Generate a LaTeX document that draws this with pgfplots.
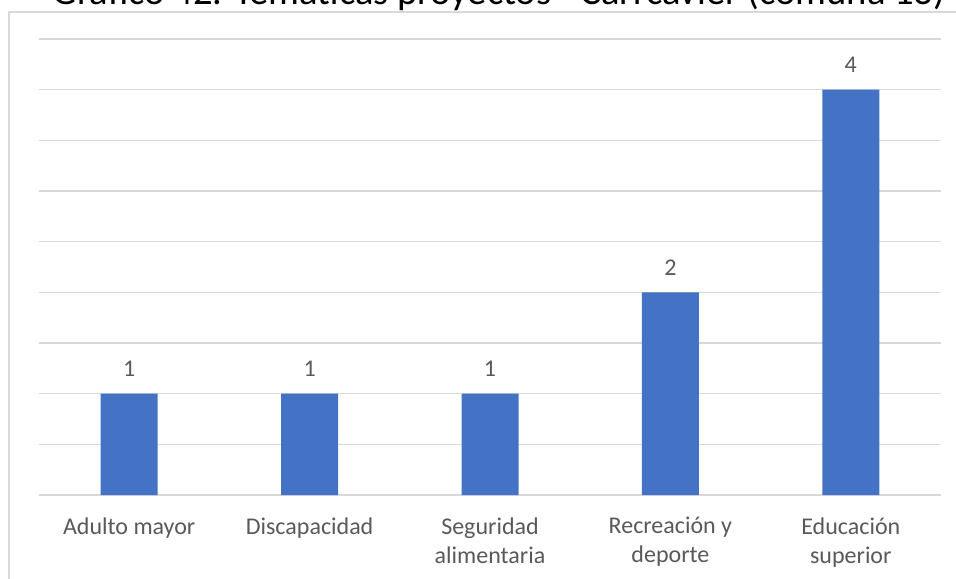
\documentclass[border=0pt]{standalone}
\usepackage{pgfplots}
\pgfplotsset{compat=1.18}
\usepackage{fontspec}
\setmainfont{Carlito}
\definecolor{barblue}{HTML}{4472C4}
\definecolor{gridgray}{HTML}{D9D9D9}
\definecolor{txtgray}{HTML}{595959}
\begin{document}
\begin{tikzpicture}
\path[use as bounding box] (0,0) rectangle (478pt,289pt);
\clip (0,0) rectangle (478pt,289pt);
\draw[gridgray, line width=0.75pt] (4.5pt,-10pt) rectangle (500pt,283pt);
\node[anchor=base, inner sep=0pt, font=\fontsize{19.3}{22}\selectfont] at (249.5pt,286.5pt) {Gráfico 42. Temáticas proyectos - Carrcavier (comuna 13)};
\begin{axis}[
  at={(19.5pt,41.5pt)}, anchor=south west,
  scale only axis, width=451pt, height=228pt,
  xmin=-0.5, xmax=4.5, ymin=0, ymax=4.5,
  /pgf/number format/assume math mode=true,
  ytick={0,0.5,...,4.5}, yticklabels={},
  ymajorgrids, grid style={gridgray, line width=0.75pt},
  axis lines*=left,
  y axis line style={draw=none},
  x axis line style={gridgray, line width=0.75pt, -},
  xtick=data, tick style={draw=none},
  xticklabels={Adulto mayor, Discapacidad, Seguridad\\alimentaria, Recreación y\\deporte, Educación\\superior},
  xticklabel style={font=\fontsize{12}{14.5}\selectfont, text=txtgray, align=center, inner sep=0pt, anchor=north, yshift=-11pt},
  nodes near coords,
  every node near coord/.append style={font=\fontsize{12}{14.5}\selectfont, text=txtgray, inner sep=0pt, anchor=base, yshift=8.5pt},
]
\addplot[ybar, bar width=28.5pt, fill=barblue, draw=none] coordinates {(0,1) (1,1) (2,1) (3,2) (4,4)};
\end{axis}
\end{tikzpicture}
\end{document}
